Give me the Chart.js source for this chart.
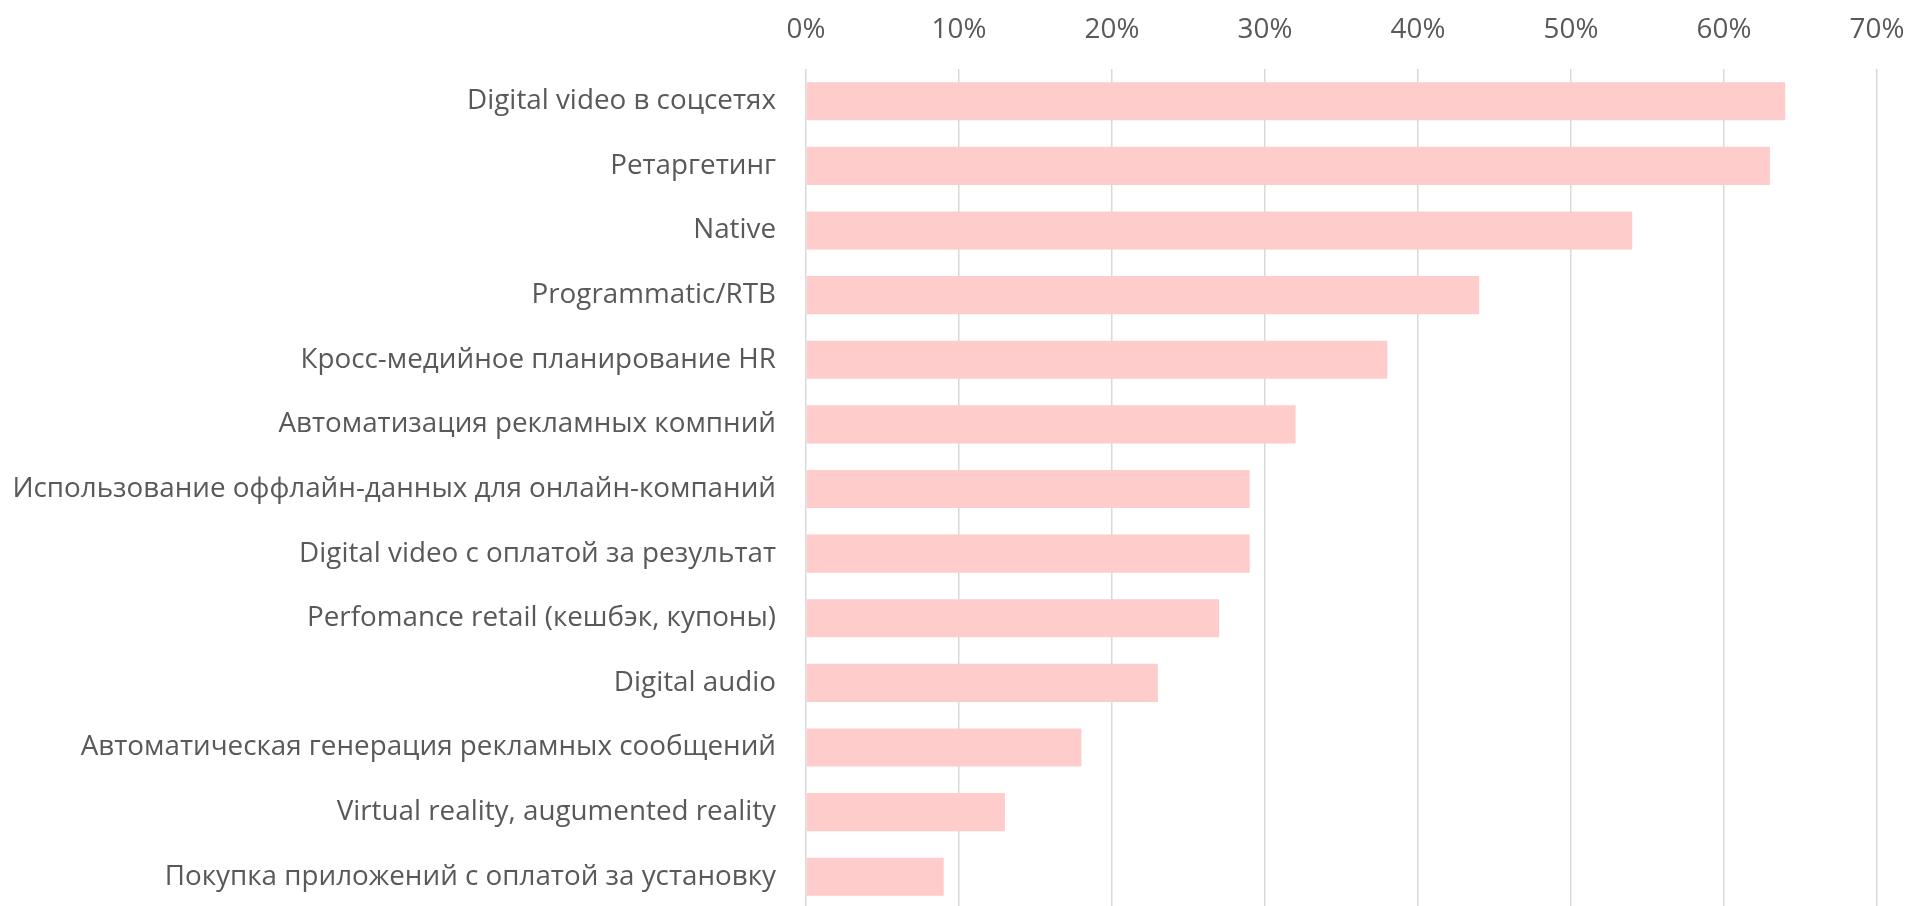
<!DOCTYPE html>
<html lang="ru">
<head>
  <meta charset="UTF-8" />
  <title>Bar chart</title>
  <script src="https://cdn.jsdelivr.net/npm/chart.js"></script>
  <style>
    html, body { margin: 0; padding: 0; background: #fff; overflow: hidden; }
    canvas { display: block; }
  </style>
</head>
<body>
  <canvas id="chart" width="1910" height="909"></canvas>

  <script>
    const categories = [
      'Digital video в соцсетях',
      'Ретаргетинг',
      'Native',
      'Programmatic/RTB',
      'Кросс-медийное планирование HR',
      'Автоматизация рекламных компний',
      'Использование оффлайн-данных для онлайн-компаний',
      'Digital video с оплатой за результат',
      'Perfomance retail (кешбэк, купоны)',
      'Digital audio',
      'Автоматическая генерация рекламных сообщений',
      'Virtual reality, augumented reality',
      'Покупка приложений с оплатой за установку'
    ];
    const shares = [64, 63, 54, 44, 38, 32, 29, 29, 27, 23, 18, 13, 9];
    const tickValues = [0, 10, 20, 30, 40, 50, 60, 70];

    const textColor = '#595959';
    const labelFont = { family: 'Open Sans', size: 27.8 };

    const ctx = document.getElementById('chart').getContext('2d');
    const chart = new Chart(ctx, {
      type: 'bar',
      data: {
        labels: categories,
        datasets: [{
          data: shares,
          backgroundColor: '#FFCCCC',
          borderWidth: 0,
          categoryPercentage: 1,
          barPercentage: 0.59,
        }],
      },
      options: {
        indexAxis: 'y',
        responsive: false,
        animation: false,
        layout: { padding: { top: 0, right: 33, bottom: 0, left: 0 } },
        plugins: {
          legend: { display: false },
          tooltip: { enabled: false },
        },
        scales: {
          x: {
            position: 'top',
            min: 0,
            max: 70,
            afterBuildTicks: (scale) => {
              scale.ticks = tickValues.map(v => ({ value: v }));
            },
            // fixed axis band, no extra edge padding for the end labels
            afterFit: (scale) => {
              scale.height = 69;
              scale.paddingLeft = 0;
              scale.paddingRight = 0;
            },
            ticks: {
              color: textColor,
              font: labelFont,
              padding: 22,
              maxRotation: 0,
              callback: (v) => v + '%',
            },
            grid: { color: '#D9D9D9', lineWidth: 1.5, drawTicks: false },
            border: { display: false },
          },
          y: {
            afterFit: (scale) => {
              scale.width = 806;
              scale.paddingTop = 0;
              scale.paddingBottom = 0;
            },
            ticks: {
              color: textColor,
              font: labelFont,
              padding: 30,
            },
            grid: { display: false, drawTicks: false },
            border: { display: false },
          },
        },
      },
    });
  </script>
</body>
</html>
